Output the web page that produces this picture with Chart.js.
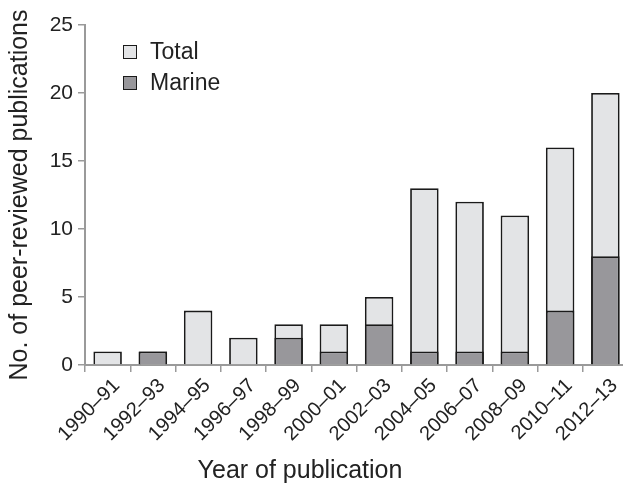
<!DOCTYPE html>
<html>
<head>
<meta charset="utf-8">
<script src="https://cdn.jsdelivr.net/npm/chart.js@4.4.1/dist/chart.umd.min.js"></script>
<style>
  html, body { margin: 0; padding: 0; background: #fff; overflow: hidden; }
  #wrap { position: relative; width: 628px; height: 487px; }
  #legend { position: absolute; left: 123px; top: 36px; font: 23px "Liberation Sans", Arial, sans-serif; color: #222; }
  .item { display: flex; align-items: center; height: 31px; }
  .box { width: 12px; height: 12px; border: 1.5px solid #1a1a1a; margin-right: 13px; }
  #xtitle { position: absolute; left: 0; width: 600px; top: 455px; text-align: center; font: 25px "Liberation Sans", Arial, sans-serif; color: #222; }
</style>
</head>
<body>
<div id="wrap">
  <canvas id="chart" width="628" height="487"></canvas>
  <div id="legend">
    <div class="item"><span class="box" style="background:#e3e4e6"></span>Total</div>
    <div class="item"><span class="box" style="background:#98979b"></span>Marine</div>
  </div>
  <div id="xtitle">Year of publication</div>
</div>
<script>
// Data
const periods = ['1990–91', '1992–93', '1994–95', '1996–97', '1998–99', '2000–01',
  '2002–03', '2004–05', '2006–07', '2008–09', '2010–11', '2012–13'];
const totalCounts = [1, 1, 4, 2, 3, 3, 5, 13, 12, 11, 16, 20];
const marineCounts = [0, 1, 0, 0, 2, 1, 3, 1, 1, 1, 4, 8];
const yTicks = [0, 5, 10, 15, 20, 25];

const AXIS_GREY = '#9a9a9a';
const FONT = '"Liberation Sans", Arial, sans-serif';

const ctx = document.getElementById('chart').getContext('2d');
new Chart(ctx, {
  type: 'bar',
  data: {
    labels: periods,
    datasets: [
      {
        label: 'Marine',
        data: marineCounts,
        backgroundColor: '#98979b',
        borderColor: '#1a1a1a',
        borderWidth: 1.8,
        order: 0,
      },
      {
        label: 'Total',
        data: totalCounts,
        backgroundColor: '#e3e4e6',
        borderColor: '#1a1a1a',
        borderWidth: 1.8,
        order: 1,
      },
    ],
  },
  options: {
    responsive: false,
    animation: false,
    layout: { padding: { top: 25, right: 0, left: 0, bottom: 0 } },
    datasets: {
      bar: { grouped: false, categoryPercentage: 1, barPercentage: 0.63 },
    },
    plugins: {
      legend: { display: false },
      tooltip: { enabled: false },
    },
    scales: {
      x: {
        grid: { drawOnChartArea: false, drawTicks: true, tickLength: 7, color: AXIS_GREY, lineWidth: 1.5 },
        border: { display: true, color: AXIS_GREY, width: 2 },
        ticks: {
          color: '#222',
          font: { family: FONT, size: 20 },
          minRotation: 45,
          maxRotation: 45,
          padding: 2,
          labelOffset: 9,
        },
        afterFit(scale) { scale.height = 122; },
      },
      y: {
        min: 0,
        max: 25,
        afterBuildTicks(scale) { scale.ticks = yTicks.map((v) => ({ value: v })); },
        grid: { drawOnChartArea: false, drawTicks: true, tickLength: 7, color: AXIS_GREY, lineWidth: 1.5 },
        border: { display: true, color: AXIS_GREY, width: 2 },
        ticks: {
          color: '#222',
          font: { family: FONT, size: 21 },
          padding: 5,
        },
        title: {
          display: true,
          text: 'No. of peer-reviewed publications',
          color: '#222',
          font: { family: FONT, size: 25 },
          padding: { top: 5, bottom: 0 },
        },
        afterFit(scale) { scale.width = 85; },
      },
    },
  },
});
</script>
</body>
</html>
